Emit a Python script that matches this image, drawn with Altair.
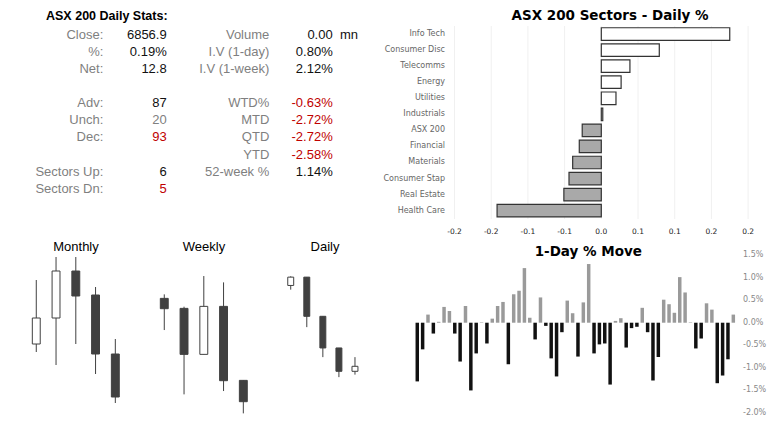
import altair as alt
import pandas as pd

# ---------------- data ----------------
stats_title = "ASX 200 Daily Stats:"

left_rows = [0, 1, 2, 4, 5, 6, 8, 9]
left_labels = ["Close:", "%:", "Net:", "Adv:", "Unch:", "Dec:", "Sectors Up:", "Sectors Dn:"]
left_values = ["6856.9", "0.19%", "12.8", "87", "20", "93", "6", "5"]
left_tone = ["pos", "pos", "pos", "pos", "flat", "neg", "pos", "neg"]

right_rows = [0, 1, 2, 4, 5, 6, 7, 8]
right_labels = ["Volume", "I.V (1-day)", "I.V (1-week)", "WTD%", "MTD", "QTD", "YTD", "52-week %"]
right_values = ["0.00", "0.80%", "2.12%", "-0.63%", "-2.72%", "-2.72%", "-2.58%", "1.14%"]
right_tone = ["pos", "pos", "pos", "neg", "neg", "neg", "neg", "pos"]
volume_unit = "mn"

sector_title = "ASX 200 Sectors - Daily %"
sectors = ["Info Tech", "Consumer Disc", "Telecomms", "Energy", "Utilities", "Industrials",
           "ASX 200", "Financial", "Materials", "Consumer Stap", "Real Estate", "Health Care"]
sector_values = [0.175, 0.079, 0.039, 0.027, 0.020, 0.002,
                 -0.026, -0.030, -0.039, -0.044, -0.051, -0.142]
sector_ticks = [-0.2, -0.15, -0.1, -0.05, 0.0, 0.05, 0.1, 0.15, 0.2]
sector_tick_labels = ["-0.2", "-0.2", "-0.1", "-0.1", "0.0", "0.1", "0.1", "0.2", "0.2"]

move_title = "1-Day % Move"
move_values = [-1.30, -0.59, 0.18, -0.24, 0.02, 0.35, 0.26, -0.24, -0.86, 0.37,
               -1.50, -0.68, 0.01, -0.46, 0.09, 0.37, 0.46, -0.92, 0.63, 0.71,
               1.21, 0.11, -0.37, 0.56, -0.07, -0.79, -1.19, -0.21, 0.49, 0.21,
               -0.75, 0.45, 1.30, -0.68, -0.48, -0.46, -1.37, 0.04, 0.10, -0.55,
               -0.12, -0.09, 0.33, -0.21, -1.28, -0.76, 0.51, 0.41, 0.22, 1.01,
               0.67, 0.01, -0.57, -0.35, 0.43, 0.29, -1.34, -1.17, -0.81, 0.18]
move_ticks = [1.5, 1.0, 0.5, 0.0, -0.5, -1.0, -1.5, -2.0]
move_tick_labels = ["1.5%", "1.0%", "0.5%", "0.0%", "-0.5%", "-1.0%", "-1.5%", "-2.0%"]

candle_titles = ["Monthly", "Weekly", "Daily"]
monthly_open = [7122, 7252, 7487, 7367, 7072]
monthly_high = [7442, 7557, 7557, 7407, 7147]
monthly_low = [7082, 7017, 7122, 6972, 6827]
monthly_close = [7252, 7487, 7362, 7072, 6857]

weekly_open = [7167, 7137, 6999, 7143, 6921]
weekly_high = [7179, 7142, 7234, 7215, 6921]
weekly_low = [7072, 6879, 6999, 6889, 6822]
weekly_close = [7136, 6999, 7143, 6920, 6857]

daily_open = [6954, 6964, 6917, 6879, 6851]
daily_high = [6965, 6964, 6917, 6879, 6868]
daily_low = [6949, 6904, 6868, 6844, 6847]
daily_close = [6964, 6917, 6879, 6851, 6857]

# ---------------- styling / layout ----------------
FONT = "Liberation Sans"
AX_FONT = "DejaVu Sans"
tone_scale = alt.Scale(domain=["pos", "neg", "flat"], range=["#111111", "#c00000", "#808080"])
row_scale = alt.Scale(domain=[0, 9], range=[27, 180.7], nice=False, zero=False)

layers = []

def one_text(txt, x, y, **kw):
    return alt.Chart(pd.DataFrame({"t": [txt]})).mark_text(**kw).encode(
        x=alt.value(x), y=alt.value(y), text="t:N")

# ---- stats table ----
layers.append(one_text(stats_title, 38, 8, align="left", baseline="middle", font=FONT,
                       fontSize=12.5, fontWeight="bold", color="#000000"))

df_left = pd.DataFrame({"row": left_rows, "label": left_labels, "value": left_values, "tone": left_tone})
df_right = pd.DataFrame({"row": right_rows, "label": right_labels, "value": right_values, "tone": right_tone})

def col_layer(df, field, x, colored):
    enc = dict(x=alt.value(x), y=alt.Y("row:Q", scale=row_scale, axis=None), text=f"{field}:N")
    kw = dict(align="right", baseline="middle", font=FONT, fontSize=13)
    if colored:
        enc["color"] = alt.Color("tone:N", scale=tone_scale, legend=None)
    else:
        kw["color"] = "#7f7f7f"
    return alt.Chart(df).mark_text(**kw).encode(**enc)

layers.append(col_layer(df_left, "label", 95.3, False))
layers.append(col_layer(df_left, "value", 158.7, True))
layers.append(col_layer(df_right, "label", 261.3, False))
layers.append(col_layer(df_right, "value", 324.7, True))
layers.append(alt.Chart(pd.DataFrame({"row": [0], "u": [volume_unit]})).mark_text(
    align="left", baseline="middle", font=FONT, fontSize=13, color="#111111").encode(
    x=alt.value(332), y=alt.Y("row:Q", scale=row_scale, axis=None), text="u:N"))

# ---- sector bars ----
sx = alt.Scale(domain=[-0.2, 0.2], range=[446.5, 740.1], nice=False, zero=False)
sy = alt.Scale(domain=sectors, range=[18, 210.7], paddingInner=0.22, paddingOuter=0.11)
df_sec = pd.DataFrame({"sector": sectors, "value": sector_values})
df_sticks = pd.DataFrame({"v": sector_ticks, "lab": sector_tick_labels})

layers.append(alt.Chart(df_sticks).mark_rule(color="#f0f0f0", strokeWidth=1).encode(
    x=alt.X("v:Q", scale=sx, axis=None), y=alt.value(18), y2=alt.value(211)))
layers.append(alt.Chart(df_sec).mark_bar(stroke="#333333", strokeWidth=1.2).encode(
    x=alt.X("value:Q", scale=sx, axis=None), x2=alt.datum(0),
    y=alt.Y("sector:N", scale=sy, sort=sectors, axis=None),
    fill=alt.condition("datum.value > 0", alt.value("#ffffff"), alt.value("#a9a9a9"))))
layers.append(alt.Chart(df_sec).mark_text(align="right", baseline="middle", font=AX_FONT,
                                          fontSize=8, color="#666666").encode(
    x=alt.value(437), y=alt.Y("sector:N", scale=sy, sort=sectors, axis=None), text="sector:N"))
layers.append(alt.Chart(df_sticks).mark_text(align="center", baseline="middle", font=AX_FONT,
                                             fontSize=7.5, color="#222222").encode(
    x=alt.X("v:Q", scale=sx, axis=None), y=alt.value(224), text="lab:N"))
layers.append(one_text(sector_title, 602, 7.8, align="center", baseline="middle", font=AX_FONT,
                       fontSize=13.5, fontWeight="bold", color="#000000"))

# ---- 1-day move bars ----
mx = alt.Scale(domain=list(range(len(move_values))), range=[406.6, 728],
               paddingInner=0.35, paddingOuter=0.175)
my = alt.Scale(domain=[-2.0, 1.5], range=[405, 247], nice=False, zero=False)
df_move = pd.DataFrame({"i": list(range(len(move_values))), "v": move_values})
df_mticks = pd.DataFrame({"v": move_ticks, "lab": move_tick_labels})

layers.append(alt.Chart(df_move).mark_bar().encode(
    x=alt.X("i:O", scale=mx, axis=None),
    y=alt.Y("v:Q", scale=my, axis=None), y2=alt.datum(0),
    color=alt.condition("datum.v > 0", alt.value("#9a9a9a"), alt.value("#111111"))))
layers.append(alt.Chart(df_mticks).mark_text(align="left", baseline="middle", font=AX_FONT,
                                             fontSize=8, color="#888888").encode(
    x=alt.value(735), y=alt.Y("v:Q", scale=my, axis=None), text="lab:N"))
layers.append(one_text(move_title, 580.3, 244.3, align="center", baseline="middle", font=AX_FONT,
                       fontSize=13.5, fontWeight="bold", color="#000000"))

# ---- candlesticks ----
def candles(title, o, h, l, c, xr, pad, ydom, yr, title_x):
    df = pd.DataFrame({"n": [1, 2, 3, 4, 5], "open": o, "high": h, "low": l, "close": c})
    xs = alt.Scale(domain=[1, 2, 3, 4, 5], range=xr, paddingInner=pad, paddingOuter=pad / 2)
    ys = alt.Scale(domain=ydom, range=yr, nice=False, zero=False)
    wick = alt.Chart(df).mark_rule(color="#404040", strokeWidth=1).encode(
        x=alt.X("n:O", scale=xs, axis=None),
        y=alt.Y("low:Q", scale=ys, axis=None), y2="high:Q")
    body = alt.Chart(df).mark_bar(stroke="#404040", strokeWidth=1).encode(
        x=alt.X("n:O", scale=xs, axis=None),
        y=alt.Y("open:Q", scale=ys, axis=None), y2="close:Q",
        fill=alt.condition("datum.close >= datum.open", alt.value("#ffffff"), alt.value("#404040")))
    ttl = one_text(title, title_x, 238.7, align="center", baseline="middle", font=FONT,
                   fontSize=13, color="#000000")
    return [wick, body, ttl]

layers += candles(candle_titles[0], monthly_open, monthly_high, monthly_low, monthly_close,
                  [18.4, 117.2], 0.6, [6800, 7600], [400.4, 240.4], 68)
layers += candles(candle_titles[1], weekly_open, weekly_high, weekly_low, weekly_close,
                  [146.4, 245.2], 0.6, [6800, 7250], [412.7, 262.7], 196)
layers += candles(candle_titles[2], daily_open, daily_high, daily_low, daily_close,
                  [274.7, 355.0], 0.63, [6830, 6980], [380.8, 255.8], 317)

chart = alt.layer(*layers).resolve_scale(
    x="independent", y="independent", color="independent", fill="independent"
).properties(
    width=763, height=423, padding=0, background="white",
    autosize=alt.AutoSizeParams(type="none")
).configure_view(stroke=None)

chart.save("out.html", embed_options={"renderer": "svg", "actions": False})
